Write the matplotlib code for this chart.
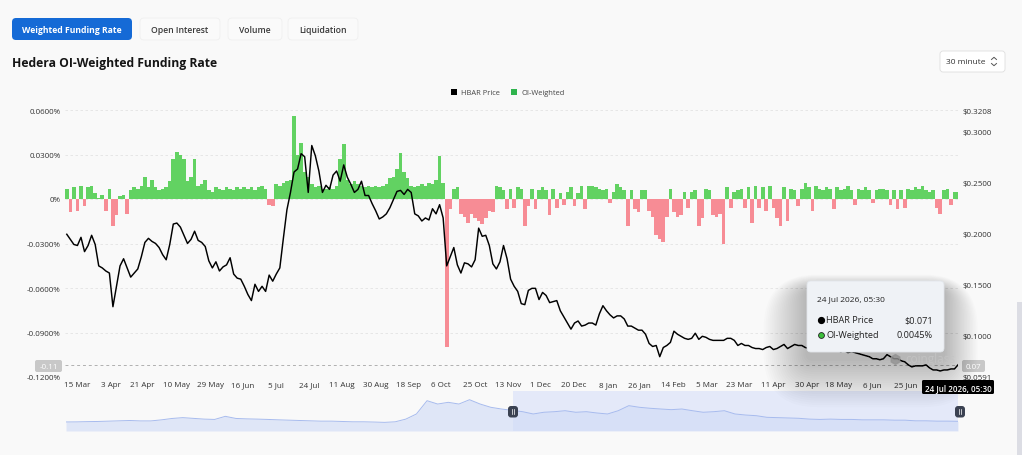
import numpy as np
import pandas as pd
import matplotlib
matplotlib.use("Agg")
import matplotlib.pyplot as plt
from matplotlib.patches import FancyBboxPatch, Rectangle

plt.rcParams['font.family'] = ['Open Sans', 'DejaVu Sans']

# ---------------- data ----------------
end_time = "2026-07-24 05:30"
step_days = 2
price_usd = [
    .199, .194, .189, .188, .196, .182, .188, .198, .189, .168,
    .166, .163, .161, .128, .148, .168, .175, .166, .157, .161,
    .165, .177, .191, .195, .192, .190, .186, .179, .174, .189,
    .209, .210, .206, .198, .190, .194, .202, .193, .191, .187,
    .173, .166, .172, .163, .167, .169, .176, .160, .156, .155,
    .148, .140, .134, .150, .143, .148, .143, .159, .153, .160,
    .166, .195, .223, .240, .260, .263, .278, .275, .240, .286,
    .276, .261, .240, .247, .243, .257, .261, .251, .267, .255,
    .248, .240, .243, .251, .237, .237, .229, .222, .214, .216,
    .219, .225, .233, .241, .242, .238, .243, .240, .219, .217,
    .212, .215, .213, .224, .219, .228, .215, .168, .177, .186,
    .169, .161, .171, .170, .167, .174, .205, .197, .198, .188,
    .170, .165, .172, .188, .175, .155, .148, .143, .131, .130,
    .144, .146, .146, .135, .142, .139, .132, .133, .134, .124,
    .118, .112, .106, .112, .114, .109, .110, .112, .112, .110,
    .121, .129, .124, .120, .117, .119, .119, .116, .109, .109,
    .107, .105, .105, .101, .092, .089, .090, .079, .088, .090,
    .093, .104, .101, .099, .097, .096, .097, .102, .096, .099,
    .098, .096, .095, .095, .095, .095, .097, .097, .095, .090,
    .092, .090, .090, .088, .087, .087, .086, .088, .089, .086,
    .087, .089, .091, .087, .089, .091, .090, .090, .088, .087,
    .088, .086, .087, .086, .087, .085, .086, .085, .084, .085,
    .083, .084, .083, .082, .081, .080, .079, .077, .077, .076,
    .077, .081, .079, .077, .077, .075, .074, .071, .069, .070,
    .070, .070, .071, .068, .066, .066, .065, .066, .066, .067,
    .067, .071,
]
oi_weighted_pct = [
    .007, -.009, .008, -.008, .009, -.005, .008, .009, .004, .001,
    .003, -.008, .007, -.018, -.011, .002, .003, -.010, .006, .008,
    .007, .009, .015, .008, .013, .008, .006, .007, .008, .012,
    .027, .032, .030, .027, .012, .015, .027, .009, .010, .013,
    .006, .005, .008, .007, .006, .008, .007, .006, .008, .007,
    .008, .007, .008, .006, .008, .009, .007, -.004, -.005, .010,
    .009, .011, .012, .013, .056, .030, .038, .018, .015, .010,
    .008, .009, .007, .007, .008, .007, .009, .027, .037, .013,
    .010, .012, .010, .009, .008, .009, .008, .009, .008, .009,
    .010, .014, .015, .020, .031, .018, .014, .009, .008, .009,
    .010, .009, .011, .010, .013, .029, .011, -.100, -.007, .007,
    .008, -.010, -.012, -.016, -.010, -.013, -.015, -.017, -.013, -.008,
    -.009, .009, .008, .006, -.007, .007, -.006, .008, .007, -.018,
    -.005, .007, -.007, .006, .008, .006, -.011, .007, -.006, .004,
    -.004, .005, .008, -.005, .004, .009, -.007, .009, .009, .008,
    .007, .006, .007, -.003, .005, .010, .008, .006, -.018, .006,
    -.007, -.009, .006, .006, -.008, -.012, -.024, -.027, -.029, -.012,
    .007, -.009, -.012, -.011, .005, -.006, .005, .006, -.018, -.013,
    .007, .006, -.011, -.012, -.010, -.030, .008, -.006, .005, .006,
    .007, -.006, .008, -.016, .009, -.006, .008, -.008, .009, -.006,
    -.013, -.018, .008, -.015, .007, .006, -.005, .007, .011, .008,
    -.008, .009, .007, .006, .008, .007, -.007, .008, .006, .007,
    .009, .006, -.004, .007, .006, .008, .006, -.003, .006, .007,
    .007, .006, -.004, .006, -.007, .006, -.006, .007, .006, .008,
    .007, .009, .006, .005, .006, -.006, -.010, .006, .007, -.004,
    .005, .0045,
]
nav_step_days = 12
nav_price_usd = [
    .062, .063, .066, .068, .072, .076, .080, .075, .075, .088,
    .105, .115, .106, .097, .093, .131, .105, .100, .097, .093,
    .088, .084, .080, .076, .072, .072, .068, .064, .064, .061,
    .057, .064, .097, .160, .323, .282, .303, .282, .335, .282,
    .242, .221, .205, .188, .160, .181, .188, .200, .181, .188,
    .172, .160, .200, .262, .242, .230, .221, .213, .221, .200,
    .181, .188, .200, .160, .147, .139, .119, .115, .111, .107,
    .097, .093, .097, .093, .093, .088, .088, .088, .084, .084,
    .076, .076, .072, .072, .070,
]
xtick_dates = ["2025-03-15", "2025-04-03", "2025-04-21", "2025-05-10", "2025-05-29",
               "2025-06-16", "2025-07-05", "2025-07-24", "2025-08-11", "2025-08-30",
               "2025-09-18", "2025-10-06", "2025-10-25", "2025-11-13", "2025-12-01",
               "2025-12-20", "2026-01-08", "2026-01-26", "2026-02-14", "2026-03-05",
               "2026-03-23", "2026-04-11", "2026-04-30", "2026-05-18", "2026-06-06",
               "2026-06-25"]
xtick_labels = ["15 Mar", "3 Apr", "21 Apr", "10 May", "29 May", "16 Jun", "5 Jul",
                "24 Jul", "11 Aug", "30 Aug", "18 Sep", "6 Oct", "25 Oct", "13 Nov",
                "1 Dec", "20 Dec", "8 Jan", "26 Jan", "14 Feb", "5 Mar", "23 Mar",
                "11 Apr", "30 Apr", "18 May", "6 Jun", "25 Jun"]
left_ticks = [0.06, 0.03, 0.0, -0.03, -0.06, -0.09, -0.12]
right_ticks = [0.3208, 0.30, 0.25, 0.20, 0.15, 0.10, 0.0591]
last_price = 0.071
last_oi = 0.0045
cross_left_label = "-0.11"
cross_right_label = "0.07"

# ---------------- derived ----------------
end = pd.Timestamp(end_time)
n = len(price_usd)
dates = pd.DatetimeIndex([end - pd.Timedelta(days=step_days * (n - 1 - k)) for k in range(n)])
x_start = dates[0] - pd.Timedelta(days=1)
nn = len(nav_price_usd)
nav_dates = pd.DatetimeIndex([end - pd.Timedelta(days=nav_step_days * (nn - 1 - j)) for j in range(nn)])

W, H, DPI = 1022, 456, 100
BG = '#f9f9f9'
GREEN = '#62d262'
RED = '#f78c95'
TXT = '#333333'

fig = plt.figure(figsize=(W / DPI, H / DPI), dpi=DPI, facecolor=BG)


def fr(x0, y0, x1, y1):
    return [x0 / W, 1 - y1 / H, (x1 - x0) / W, (y1 - y0) / H]


# ---------------- main chart ----------------
ax = fig.add_axes(fr(65, 111, 958, 378))
ax.set_facecolor('none')
oi = np.array(oi_weighted_pct)
bar_colors = [GREEN if v >= 0 else RED for v in oi]
ax.bar(dates, oi, width=step_days * 1.02, color=bar_colors, lw=0, zorder=2)
ax.set_ylim(-0.12, 0.06)
ax.set_yticks(left_ticks)
ax.set_yticklabels(["0%" if v == 0 else f"{v:.4f}%" for v in left_ticks])
ax.grid(axis='y', color='#e3e3e3', ls=(0, (3, 3)), lw=0.6)
ax.set_axisbelow(True)
ax.set_xlim(x_start, end)
ax.set_xticks(pd.to_datetime(xtick_dates))
ax.set_xticklabels(xtick_labels)
ax.tick_params(length=0, labelsize=5.8, labelcolor=TXT, pad=3)
for s in ax.spines.values():
    s.set_visible(False)
ax.axvline(end, color='#b5b5b5', ls=(0, (2, 2)), lw=0.7, zorder=1)

ax2 = ax.twinx()
ax2.plot(dates, price_usd, color='black', lw=1.05, zorder=3)
ax2.set_ylim(0.0591, 0.3208)
ax2.set_yticks(right_ticks)
ax2.set_yticklabels([f"${v:.4f}" for v in right_ticks])
ax2.tick_params(length=0, labelsize=5.8, labelcolor=TXT, pad=3)
for s in ax2.spines.values():
    s.set_visible(False)
ax2.axhline(last_price, color='#b0b0b0', ls=(0, (3, 3)), lw=0.7, zorder=1)
ax2.set_xlim(x_start, end)

# ---------------- navigator ----------------
axn = fig.add_axes(fr(66, 392, 958, 432))
axn.set_facecolor('none')
nav_lo = -0.049
axn.set_ylim(nav_lo, 0.442)
axn.set_xlim(nav_dates[0], end)
axn.axvspan(x_start, end, color='#e4e9f9', lw=0, zorder=0)
axn.fill_between(nav_dates, nav_price_usd, nav_lo, color='#cfdaf6', alpha=0.6, lw=0, zorder=1)
axn.plot(nav_dates, nav_price_usd, color='#a7bbee', lw=0.7, zorder=2)
axn.axis('off')

# ---------------- overlay (UI in pixel coords) ----------------
ov = fig.add_axes([0, 0, 1, 1])
ov.set_xlim(0, W)
ov.set_ylim(H, 0)
ov.axis('off')
ov.patch.set_alpha(0)
ov.set_zorder(10)


def rbox(x0, y0, x1, y1, fc, ec='none', r=3, lw=0.6, z=1, alpha=1.0):
    p = FancyBboxPatch((x0, y0), x1 - x0, y1 - y0,
                       boxstyle=f"round,pad=0,rounding_size={r}",
                       fc=fc, ec=ec, lw=lw, zorder=z, alpha=alpha)
    ov.add_patch(p)
    return p


# tabs
rbox(12, 19, 132, 41, '#156ad6', r=4)
ov.text(72, 30.5, "Weighted Funding Rate", color='white', fontsize=6.2,
        fontweight='bold', ha='center', va='center')
for (a, b, lab) in [(140, 220, "Open Interest"), (228, 282, "Volume"), (288, 358, "Liquidation")]:
    rbox(a, 19, b, 41, '#fafafa', ec='#f0f0f0', r=4)
    ov.text((a + b) / 2, 30.5, lab, color='#3a3a3a', fontsize=6.2,
            fontweight='semibold', ha='center', va='center')

# title
ov.text(12, 63, "Hedera OI-Weighted Funding Rate", color='#151515', fontsize=8.7,
        fontweight='bold', ha='left', va='center')

# dropdown
rbox(940, 52, 1005, 73, 'white', ec='#dedede', r=3)
ov.text(946, 62.8, "30 minute", color=TXT, fontsize=6.0, ha='left', va='center')
ov.plot([991.5, 994, 996.5], [60.5, 58.3, 60.5], color='#555', lw=0.7)
ov.plot([991.5, 994, 996.5], [64.5, 66.7, 64.5], color='#555', lw=0.7)

# legend
ov.add_patch(Rectangle((451, 90), 6, 6, fc='black', lw=0))
ov.text(461, 93.2, "HBAR Price", color='#444', fontsize=5.4, ha='left', va='center')
ov.add_patch(Rectangle((511, 90), 6, 6, fc='#2fb44d', lw=0))
ov.text(521, 93.2, "OI-Weighted", color='#444', fontsize=5.4, ha='left', va='center')

# crosshair labels
rbox(35, 361, 62, 373, '#c8c8c8', r=2)
ov.text(48.5, 367.3, cross_left_label, color='white', fontsize=5.8, ha='center', va='center')
rbox(962, 361, 985, 373, '#c8c8c8', r=2)
ov.text(973.5, 367.3, cross_right_label, color='white', fontsize=5.8, ha='center', va='center')

# watermark
ov.plot([895], [360], marker='h', ms=7, color='#c9c9c9', alpha=0.8)
ov.text(905, 360, "coinglass", color='#c4c4c4', fontsize=8.5, ha='left', va='center', alpha=0.85)

# tooltip soft shadow + box
for i in range(22):
    g = 2 + i * 2.2
    rbox(807 - g * 0.9, 290 - g * 0.3, 944 + g * 0.7, 360 + g, 'black',
         r=6 + g, alpha=0.010, z=2)
rbox(807, 282, 944, 353, '#eff2f6', ec='#e2e6eb', r=4, z=3)
ov.text(817, 299.5, end.strftime("%d %b %Y, %H:%M"), color='#222', fontsize=6.0,
        ha='left', va='center', zorder=4)
ov.plot([820.5], [321], marker='o', ms=4.2, color='black', zorder=4)
ov.text(826.5, 321, "HBAR Price", color='#222', fontsize=6.6, ha='left', va='center', zorder=4)
ov.text(933, 321, f"${last_price:.3f}", color='#222', fontsize=6.6, ha='right', va='center', zorder=4)
ov.plot([820.5], [335.5], marker='o', ms=4.2, color='#3cbf3c', mec='#222', mew=0.6, zorder=4)
ov.text(826.5, 335.5, "OI-Weighted", color='#222', fontsize=6.6, ha='left', va='center', zorder=4)
ov.text(933, 335.5, f"{last_oi:.4f}%", color='#222', fontsize=6.6, ha='right', va='center', zorder=4)

# bottom date box
rbox(922, 381, 994, 395, 'black', r=1.5, z=5)
ov.text(958, 388.2, end.strftime("%d %b %Y, %H:%M"), color='white', fontsize=5.8,
        fontweight='semibold', ha='center', va='center', zorder=6)

# navigator handles
for hx in (513, 960):
    rbox(hx - 5, 407, hx + 5, 418.5, '#3b4252', r=3, z=5)
    ov.plot([hx - 1.2, hx - 1.2], [410.5, 415], color='white', lw=0.5, zorder=6)
    ov.plot([hx + 1.2, hx + 1.2], [410.5, 415], color='white', lw=0.5, zorder=6)

# scrollbar hint
ov.add_patch(Rectangle((1017, 303), 5, 153, fc='#dcdde4', lw=0))

fig.savefig("out.png", dpi=DPI, facecolor=BG)
